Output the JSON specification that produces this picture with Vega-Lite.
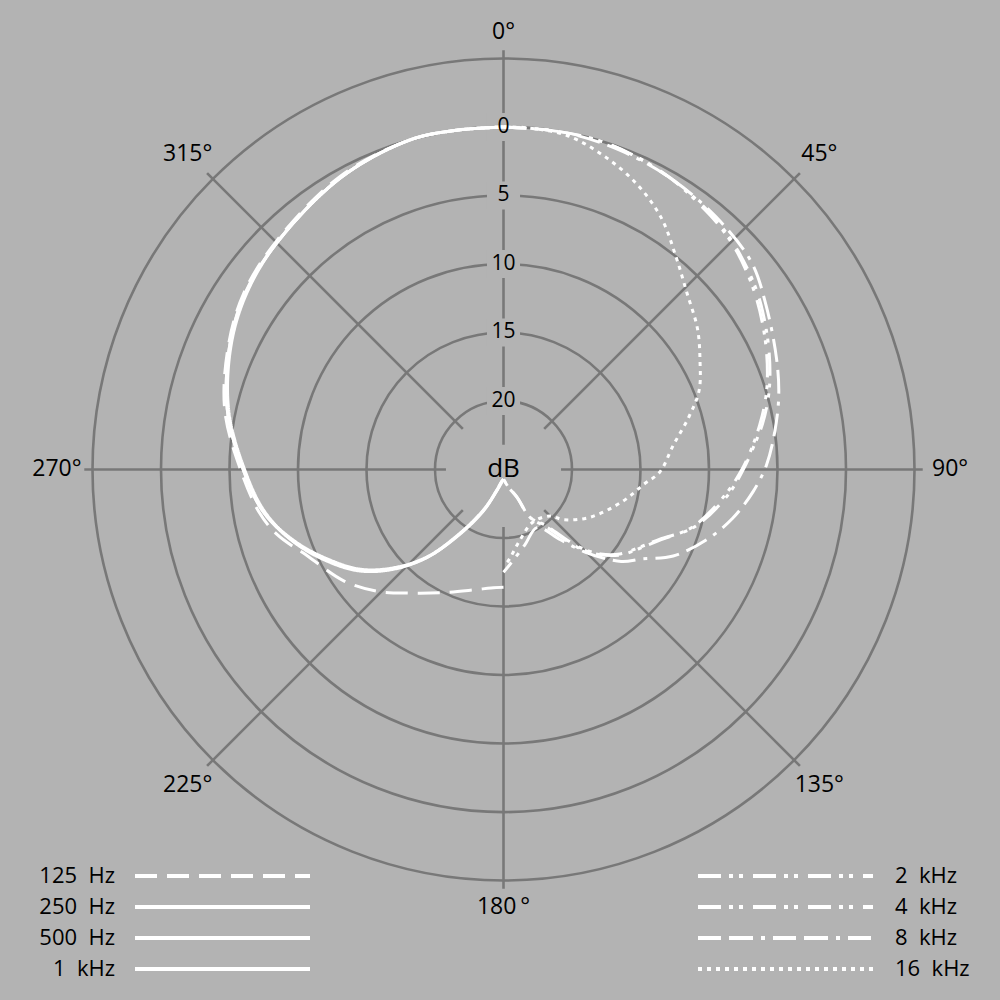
{
  "$schema": "https://vega.github.io/schema/vega-lite/v6.json",
  "width": 1000,
  "height": 1000,
  "padding": 0,
  "autosize": {"type": "fit", "contains": "padding"},
  "background": "#b3b3b3",
  "config": {"view": {"stroke": null}, "font": "Open Sans"},
  "datasets": {
    "rings": [
      {"level": -5, "label": ""},
      {"level": 0, "label": "0"},
      {"level": 5, "label": "5"},
      {"level": 10, "label": "10"},
      {"level": 15, "label": "15"},
      {"level": 20, "label": "20"}
    ],
    "spokes": [
      {"angle": 0, "label": "0°"},
      {"angle": 45, "label": "45°"},
      {"angle": 90, "label": "90°"},
      {"angle": 135, "label": "135°"},
      {"angle": 180, "label": "180\u2009°"},
      {"angle": 225, "label": "225°"},
      {"angle": 270, "label": "270°"},
      {"angle": 315, "label": "315°"}
    ],
    "legend": [
      {"series": "125 Hz", "label": "125\u00a0\u00a0Hz", "side": "left", "row": 1},
      {"series": "250 Hz", "label": "250\u00a0\u00a0Hz", "side": "left", "row": 2},
      {"series": "500 Hz", "label": "500\u00a0\u00a0Hz", "side": "left", "row": 3},
      {"series": "1 kHz", "label": "1\u00a0\u00a0kHz", "side": "left", "row": 4},
      {"series": "2 kHz", "label": "2\u00a0\u00a0kHz", "side": "right", "row": 1},
      {"series": "4 kHz", "label": "4\u00a0\u00a0kHz", "side": "right", "row": 2},
      {"series": "8 kHz", "label": "8\u00a0\u00a0kHz", "side": "right", "row": 3},
      {"series": "16 kHz", "label": "16\u00a0\u00a0kHz", "side": "right", "row": 4}
    ],
    "curves": [
      {"series": "125 Hz", "angle": 180, "att": 16.4},
      {"series": "125 Hz", "angle": 186, "att": 16.3},
      {"series": "125 Hz", "angle": 193, "att": 16.0},
      {"series": "125 Hz", "angle": 206, "att": 15.0},
      {"series": "125 Hz", "angle": 217, "att": 13.7},
      {"series": "125 Hz", "angle": 226, "att": 12.2},
      {"series": "125 Hz", "angle": 235, "att": 10.8},
      {"series": "125 Hz", "angle": 246, "att": 9.4},
      {"series": "125 Hz", "angle": 254, "att": 7.8},
      {"series": "125 Hz", "angle": 260, "att": 6.9},
      {"series": "125 Hz", "angle": 270, "att": 5.8},
      {"series": "125 Hz", "angle": 282, "att": 4.2},
      {"series": "125 Hz", "angle": 294, "att": 3.0},
      {"series": "125 Hz", "angle": 304, "att": 2.1},
      {"series": "125 Hz", "angle": 315, "att": 1.5},
      {"series": "125 Hz", "angle": 331, "att": 0.5},
      {"series": "125 Hz", "angle": 344, "att": 0.0},
      {"series": "125 Hz", "angle": 352, "att": 0.0},
      {"series": "125 Hz", "angle": 360, "att": 0.0},

      {"series": "250 Hz", "angle": 180, "att": 24.3},
      {"series": "250 Hz", "angle": 189, "att": 24.1},
      {"series": "250 Hz", "angle": 198, "att": 23.4},
      {"series": "250 Hz", "angle": 206, "att": 21.7},
      {"series": "250 Hz", "angle": 214, "att": 19.4},
      {"series": "250 Hz", "angle": 221, "att": 16.5},
      {"series": "250 Hz", "angle": 228, "att": 14.2},
      {"series": "250 Hz", "angle": 235, "att": 12.2},
      {"series": "250 Hz", "angle": 243, "att": 10.5},
      {"series": "250 Hz", "angle": 251, "att": 8.8},
      {"series": "250 Hz", "angle": 260, "att": 7.2},
      {"series": "250 Hz", "angle": 270, "att": 6.0},
      {"series": "250 Hz", "angle": 282, "att": 4.4},
      {"series": "250 Hz", "angle": 294, "att": 3.1},
      {"series": "250 Hz", "angle": 304, "att": 2.2},
      {"series": "250 Hz", "angle": 315, "att": 1.6},
      {"series": "250 Hz", "angle": 331, "att": 0.6},
      {"series": "250 Hz", "angle": 344, "att": 0.0},
      {"series": "250 Hz", "angle": 352, "att": 0.0},
      {"series": "250 Hz", "angle": 360, "att": 0.0},

      {"series": "500 Hz", "angle": 180, "att": 24.3},
      {"series": "500 Hz", "angle": 189, "att": 24.1},
      {"series": "500 Hz", "angle": 198, "att": 23.4},
      {"series": "500 Hz", "angle": 206, "att": 21.8},
      {"series": "500 Hz", "angle": 214, "att": 19.5},
      {"series": "500 Hz", "angle": 221, "att": 16.6},
      {"series": "500 Hz", "angle": 228, "att": 14.3},
      {"series": "500 Hz", "angle": 235, "att": 12.3},
      {"series": "500 Hz", "angle": 243, "att": 10.6},
      {"series": "500 Hz", "angle": 251, "att": 8.9},
      {"series": "500 Hz", "angle": 260, "att": 7.2},
      {"series": "500 Hz", "angle": 270, "att": 6.0},
      {"series": "500 Hz", "angle": 282, "att": 4.4},
      {"series": "500 Hz", "angle": 294, "att": 3.1},
      {"series": "500 Hz", "angle": 304, "att": 2.2},
      {"series": "500 Hz", "angle": 315, "att": 1.6},
      {"series": "500 Hz", "angle": 331, "att": 0.6},
      {"series": "500 Hz", "angle": 344, "att": 0.0},
      {"series": "500 Hz", "angle": 352, "att": 0.0},
      {"series": "500 Hz", "angle": 360, "att": 0.0},

      {"series": "1 kHz", "angle": 180, "att": 24.3},
      {"series": "1 kHz", "angle": 189, "att": 24.0},
      {"series": "1 kHz", "angle": 198, "att": 23.3},
      {"series": "1 kHz", "angle": 206, "att": 21.6},
      {"series": "1 kHz", "angle": 214, "att": 19.3},
      {"series": "1 kHz", "angle": 221, "att": 16.5},
      {"series": "1 kHz", "angle": 228, "att": 14.1},
      {"series": "1 kHz", "angle": 235, "att": 12.1},
      {"series": "1 kHz", "angle": 243, "att": 10.4},
      {"series": "1 kHz", "angle": 251, "att": 8.8},
      {"series": "1 kHz", "angle": 260, "att": 7.3},
      {"series": "1 kHz", "angle": 270, "att": 6.1},
      {"series": "1 kHz", "angle": 282, "att": 4.5},
      {"series": "1 kHz", "angle": 294, "att": 3.2},
      {"series": "1 kHz", "angle": 304, "att": 2.3},
      {"series": "1 kHz", "angle": 315, "att": 1.6},
      {"series": "1 kHz", "angle": 331, "att": 0.6},
      {"series": "1 kHz", "angle": 344, "att": 0.0},
      {"series": "1 kHz", "angle": 352, "att": 0.0},
      {"series": "1 kHz", "angle": 360, "att": 0.0},

      {"series": "2 kHz", "angle": 0, "att": 0.0},
      {"series": "2 kHz", "angle": 8, "att": 0.0},
      {"series": "2 kHz", "angle": 16, "att": 0.0},
      {"series": "2 kHz", "angle": 23, "att": 0.2},
      {"series": "2 kHz", "angle": 30, "att": 0.5},
      {"series": "2 kHz", "angle": 36, "att": 0.8},
      {"series": "2 kHz", "angle": 41, "att": 1.1},
      {"series": "2 kHz", "angle": 47, "att": 1.6},
      {"series": "2 kHz", "angle": 55, "att": 2.4},
      {"series": "2 kHz", "angle": 63, "att": 3.4},
      {"series": "2 kHz", "angle": 70, "att": 4.3},
      {"series": "2 kHz", "angle": 75, "att": 5.0},
      {"series": "2 kHz", "angle": 80, "att": 5.8},
      {"series": "2 kHz", "angle": 85, "att": 6.7},
      {"series": "2 kHz", "angle": 90, "att": 7.5},
      {"series": "2 kHz", "angle": 97, "att": 8.6},
      {"series": "2 kHz", "angle": 107, "att": 10.5},
      {"series": "2 kHz", "angle": 114, "att": 12.5},
      {"series": "2 kHz", "angle": 120, "att": 13.6},
      {"series": "2 kHz", "angle": 126, "att": 14.5},
      {"series": "2 kHz", "angle": 131, "att": 15.6},
      {"series": "2 kHz", "angle": 136, "att": 17.2},
      {"series": "2 kHz", "angle": 143, "att": 19.9},
      {"series": "2 kHz", "angle": 151, "att": 21.0},
      {"series": "2 kHz", "angle": 154, "att": 22.8},
      {"series": "2 kHz", "angle": 165, "att": 23.7},
      {"series": "2 kHz", "angle": 180, "att": 24.3},

      {"series": "4 kHz", "angle": 0, "att": 0.0},
      {"series": "4 kHz", "angle": 8, "att": 0.0},
      {"series": "4 kHz", "angle": 16, "att": 0.0},
      {"series": "4 kHz", "angle": 23, "att": 0.2},
      {"series": "4 kHz", "angle": 30, "att": 0.5},
      {"series": "4 kHz", "angle": 36, "att": 0.9},
      {"series": "4 kHz", "angle": 41, "att": 1.2},
      {"series": "4 kHz", "angle": 47, "att": 1.7},
      {"series": "4 kHz", "angle": 55, "att": 2.6},
      {"series": "4 kHz", "angle": 63, "att": 3.6},
      {"series": "4 kHz", "angle": 70, "att": 4.5},
      {"series": "4 kHz", "angle": 75, "att": 5.2},
      {"series": "4 kHz", "angle": 80, "att": 6.0},
      {"series": "4 kHz", "angle": 85, "att": 6.8},
      {"series": "4 kHz", "angle": 90, "att": 7.6},
      {"series": "4 kHz", "angle": 97, "att": 8.8},
      {"series": "4 kHz", "angle": 107, "att": 10.6},
      {"series": "4 kHz", "angle": 114, "att": 12.4},
      {"series": "4 kHz", "angle": 120, "att": 13.5},
      {"series": "4 kHz", "angle": 126, "att": 14.4},
      {"series": "4 kHz", "angle": 131, "att": 15.5},
      {"series": "4 kHz", "angle": 136, "att": 17.0},
      {"series": "4 kHz", "angle": 143, "att": 19.7},
      {"series": "4 kHz", "angle": 151, "att": 21.0},
      {"series": "4 kHz", "angle": 154, "att": 22.7},
      {"series": "4 kHz", "angle": 165, "att": 23.7},
      {"series": "4 kHz", "angle": 180, "att": 24.3},

      {"series": "8 kHz", "angle": 0, "att": 0.0},
      {"series": "8 kHz", "angle": 10, "att": 0.0},
      {"series": "8 kHz", "angle": 20, "att": 0.2},
      {"series": "8 kHz", "angle": 30, "att": 0.5},
      {"series": "8 kHz", "angle": 40, "att": 0.9},
      {"series": "8 kHz", "angle": 50, "att": 1.4},
      {"series": "8 kHz", "angle": 58, "att": 2.4},
      {"series": "8 kHz", "angle": 68, "att": 3.5},
      {"series": "8 kHz", "angle": 75, "att": 4.2},
      {"series": "8 kHz", "angle": 82, "att": 5.0},
      {"series": "8 kHz", "angle": 89, "att": 5.8},
      {"series": "8 kHz", "angle": 95, "att": 6.7},
      {"series": "8 kHz", "angle": 102, "att": 7.9},
      {"series": "8 kHz", "angle": 109, "att": 9.3},
      {"series": "8 kHz", "angle": 117, "att": 11.1},
      {"series": "8 kHz", "angle": 123, "att": 13.0},
      {"series": "8 kHz", "angle": 128, "att": 14.1},
      {"series": "8 kHz", "angle": 135, "att": 16.4},
      {"series": "8 kHz", "angle": 141, "att": 18.4},
      {"series": "8 kHz", "angle": 150, "att": 20.1},
      {"series": "8 kHz", "angle": 164, "att": 19.3},
      {"series": "8 kHz", "angle": 175, "att": 18.2},
      {"series": "8 kHz", "angle": 180, "att": 17.5},

      {"series": "16 kHz", "angle": 0, "att": 0.0},
      {"series": "16 kHz", "angle": 4, "att": 0.0},
      {"series": "16 kHz", "angle": 11, "att": 0.2},
      {"series": "16 kHz", "angle": 18, "att": 1.0},
      {"series": "16 kHz", "angle": 25, "att": 2.0},
      {"series": "16 kHz", "angle": 32, "att": 3.3},
      {"series": "16 kHz", "angle": 39, "att": 5.0},
      {"series": "16 kHz", "angle": 46, "att": 6.4},
      {"series": "16 kHz", "angle": 54, "att": 7.5},
      {"series": "16 kHz", "angle": 61, "att": 8.6},
      {"series": "16 kHz", "angle": 68, "att": 9.6},
      {"series": "16 kHz", "angle": 74, "att": 10.9},
      {"series": "16 kHz", "angle": 82, "att": 12.5},
      {"series": "16 kHz", "angle": 91, "att": 13.6},
      {"series": "16 kHz", "angle": 96, "att": 14.7},
      {"series": "16 kHz", "angle": 105, "att": 16.0},
      {"series": "16 kHz", "angle": 119, "att": 17.8},
      {"series": "16 kHz", "angle": 130, "att": 19.3},
      {"series": "16 kHz", "angle": 135, "att": 20.2},
      {"series": "16 kHz", "angle": 151, "att": 20.6},
      {"series": "16 kHz", "angle": 167, "att": 19.7},
      {"series": "16 kHz", "angle": 178, "att": 18.2},
      {"series": "16 kHz", "angle": 180, "att": 18.1}
    ]
  },
  "layer": [
    {
      "encoding": {
        "x": {"field": "px", "type": "quantitative", "axis": null,
              "scale": {"domain": [-36.752, 36.241], "nice": false, "zero": false}},
        "y": {"field": "py", "type": "quantitative", "axis": null,
              "scale": {"domain": [-38.723, 34.270], "nice": false, "zero": false}}
      },
      "layer": [
        {
          "data": {"name": "rings"},
          "transform": [
            {"calculate": "25 - datum.level", "as": "u"},
            {"calculate": "0", "as": "px"},
            {"calculate": "0", "as": "py"}
          ],
          "mark": {"type": "point", "shape": "circle", "filled": false, "color": "#787878", "strokeWidth": 2.6, "opacity": 1},
          "encoding": {
            "size": {"field": "u", "type": "quantitative", "legend": null,
                     "scale": {"type": "pow", "exponent": 2, "domain": [0, 30], "range": [0, 675684]}}
          }
        },
        {
          "data": {"name": "spokes"},
          "transform": [
            {"calculate": "datum.angle == 0 ? 1.8 : 4.2", "as": "ri"},
            {"calculate": "datum.ri * sin(datum.angle * PI / 180)", "as": "px"},
            {"calculate": "datum.ri * cos(datum.angle * PI / 180)", "as": "py"},
            {"calculate": "30.6 * sin(datum.angle * PI / 180)", "as": "px2"},
            {"calculate": "30.6 * cos(datum.angle * PI / 180)", "as": "py2"}
          ],
          "mark": {"type": "rule", "color": "#787878", "strokeWidth": 2.6},
          "encoding": {"x2": {"field": "px2"}, "y2": {"field": "py2"}}
        },
        {
          "data": {"name": "rings"},
          "transform": [
            {"filter": "datum.level >= 0"},
            {"calculate": "0", "as": "px"},
            {"calculate": "25 - datum.level", "as": "py"}
          ],
          "mark": {"type": "point", "shape": "M-1.18,-1H1.18V1H-1.18Z", "size": 784, "filled": true, "color": "#b3b3b3", "strokeWidth": 0, "opacity": 1}
        },
        {
          "data": {"name": "curves"},
          "transform": [
            {"calculate": "25 - datum.att", "as": "u"},
            {"calculate": "datum.u * sin(datum.angle * PI / 180)", "as": "px"},
            {"calculate": "datum.u * cos(datum.angle * PI / 180)", "as": "py"}
          ],
          "mark": {"type": "line", "color": "white", "strokeWidth": 3, "interpolate": "catmull-rom", "strokeCap": "butt"},
          "encoding": {
            "detail": {"field": "series", "type": "nominal"},
            "order": {"field": "angle", "type": "quantitative"},
            "strokeDash": {
              "field": "series", "type": "nominal", "legend": null,
              "scale": {
                "domain": ["125 Hz", "250 Hz", "500 Hz", "1 kHz", "2 kHz", "4 kHz", "8 kHz", "16 kHz"],
                "range": [[22, 10], [1, 0], [1, 0], [1, 0], [23, 8, 4, 6, 4, 10], [23, 8, 4, 6, 4, 10], [23, 8, 24, 8, 4, 8], [4, 5]]
              }
            }
          }
        },
        {
          "data": {"name": "rings"},
          "transform": [
            {"filter": "datum.level >= 0"},
            {"calculate": "0", "as": "px"},
            {"calculate": "25 - datum.level", "as": "py"}
          ],
          "mark": {"type": "text", "fontSize": 21, "color": "#000000", "align": "center", "baseline": "middle"},
          "encoding": {"text": {"field": "label"}}
        },
        {
          "data": {"values": [{"label": "dB"}]},
          "transform": [
            {"calculate": "0", "as": "px"},
            {"calculate": "0", "as": "py"}
          ],
          "mark": {"type": "text", "fontSize": 26, "color": "#000000", "align": "center", "baseline": "middle"},
          "encoding": {"text": {"field": "label"}}
        },
        {
          "data": {"name": "spokes"},
          "transform": [
            {"calculate": "datum.angle % 180 == 0 ? 31.9 : 32.6", "as": "rl"},
            {"calculate": "datum.rl * sin(datum.angle * PI / 180)", "as": "px"},
            {"calculate": "datum.rl * cos(datum.angle * PI / 180)", "as": "py"}
          ],
          "mark": {"type": "text", "fontSize": 23, "color": "#000000", "align": "center", "baseline": "middle"},
          "encoding": {"text": {"field": "label"}}
        }
      ]
    },
    {
      "data": {"name": "legend"},
      "encoding": {
        "x": {"field": "side", "type": "nominal", "axis": null,
              "scale": {"type": "point", "domain": ["left", "right"], "range": [135, 698], "padding": 0}},
        "y": {"field": "row", "type": "ordinal", "axis": null,
              "scale": {"type": "point", "domain": [1, 2, 3, 4], "range": [876, 969], "padding": 0}}
      },
      "layer": [
        {
          "mark": {"type": "rule", "x2Offset": 175, "color": "white", "strokeWidth": 4, "strokeCap": "butt"},
          "encoding": {
            "x2": {"field": "side"},
            "strokeDash": {
              "field": "series", "type": "nominal", "legend": null,
              "scale": {
                "domain": ["125 Hz", "250 Hz", "500 Hz", "1 kHz", "2 kHz", "4 kHz", "8 kHz", "16 kHz"],
                "range": [[22, 10], [1, 0], [1, 0], [1, 0], [23, 8, 4, 6, 4, 10], [23, 8, 4, 6, 4, 10], [23, 8, 24, 8, 4, 8], [4, 5]]
              }
            }
          }
        },
        {
          "transform": [{"filter": "datum.side == 'left'"}],
          "mark": {"type": "text", "align": "right", "baseline": "middle", "dx": -20, "fontSize": 22, "color": "#000000"},
          "encoding": {"text": {"field": "label"}}
        },
        {
          "transform": [{"filter": "datum.side == 'right'"}],
          "mark": {"type": "text", "align": "left", "baseline": "middle", "dx": 197, "fontSize": 22, "color": "#000000"},
          "encoding": {"text": {"field": "label"}}
        }
      ]
    }
  ],
  "resolve": {"scale": {"x": "independent", "y": "independent"}}
}
